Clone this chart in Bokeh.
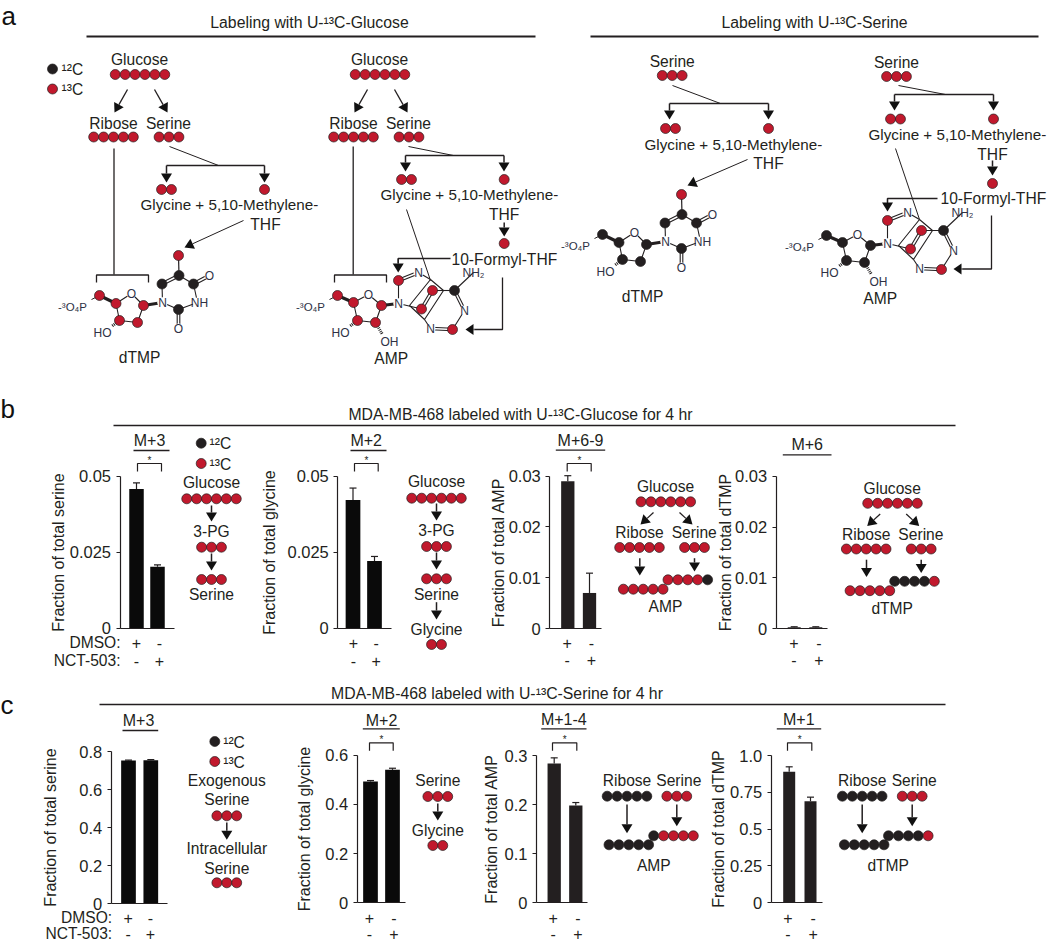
from math import hypot
from bokeh.plotting import figure
from bokeh.models import Range1d, LinearAxis, FixedTicker
from bokeh.core.properties import value
from bokeh.embed import file_html
from bokeh.resources import INLINE

# ---------- chart values ----------
b_serine_vals = [0.0458, 0.0202]
b_serine_errs = [0.0478, 0.0208]
b_glycine_vals = [0.0422, 0.0221]
b_glycine_errs = [0.0461, 0.0236]
b_amp_vals = [0.0290, 0.0070]
b_amp_errs = [0.0301, 0.0109]
b_dtmp_vals = [0.0003, 0.0003]
b_dtmp_errs = [0.0004, 0.0004]
c_serine_vals = [0.7527, 0.7540]
c_serine_errs = [0.7550, 0.7570]
c_glycine_vals = [0.493, 0.5404]
c_glycine_errs = [0.497, 0.547]
c_amp_vals = [0.2837, 0.198]
c_amp_errs = [0.2952, 0.204]
c_dtmp_vals = [0.889, 0.689]
c_dtmp_errs = [0.923, 0.7166]

ticks_005 = [0, 0.025, 0.05]
labels_005 = ["0", "0.025", "0.05"]
ticks_003 = [0, 0.01, 0.02, 0.03]
labels_003 = ["0", "0.01", "0.02", "0.03"]
ticks_08 = [0, 0.2, 0.4, 0.6, 0.8]
labels_08 = ["0", "0.2", "0.4", "0.6", "0.8"]
ticks_06 = [0, 0.2, 0.4, 0.6]
labels_06 = ["0", "0.2", "0.4", "0.6"]
ticks_03 = [0, 0.1, 0.2, 0.3]
labels_03 = ["0", "0.1", "0.2", "0.3"]
ticks_10 = [0, 0.25, 0.5, 0.75, 1.0]
labels_10 = ["0", "0.25", "0.5", "0.75", "1.0"]

RED, BLK, INK, MOL = "#c1192d", "#231f20", "#231f20", "#2e3145"
FONT = value("Liberation Sans")
W, H = 1050, 942
OX, OY = 0, 0
TS = 15.6   # usual text size

p = figure(width=W, height=H, output_backend="svg", toolbar_location=None,
           x_range=Range1d(OX, OX + W), y_range=Range1d(OY + H, OY),
           x_axis_type=None, y_axis_type=None, min_border=0,
           outline_line_color=None, background_fill_color="white", tools="")
p.grid.visible = False
p.min_border_left = p.min_border_right = p.min_border_top = p.min_border_bottom = 0

lines, dashed, heads, dots, whites, texts = [], [], [], [], [], []


def L(pts, w=1.3, c=INK):
    lines.append(([q[0] for q in pts], [q[1] for q in pts], w, c))


def A(x0, y0, x1, y1, w=1.3, hl=9, hw=5.5):
    d = hypot(x1 - x0, y1 - y0)
    ux, uy = (x1 - x0) / d, (y1 - y0) / d
    bx, by = x1 - ux * hl, y1 - uy * hl
    L([(x0, y0), (bx, by)], w)
    heads.append(([x1, bx - uy * hw, bx + uy * hw], [y1, by + ux * hw, by - ux * hw]))


def T(x, y, s, size=TS, align="center", base="middle", c=INK):
    texts.append((x, y, s, size, align, base, c))


def chain(cx, y, cols, step=9.9):
    n = len(cols)
    for i, k in enumerate(cols):
        dots.append((cx + (i - (n - 1) / 2) * step, y, k))


def dbl(a, b, w=1.1, g=1.3):
    d = hypot(b[0] - a[0], b[1] - a[1])
    nx, ny = -(b[1] - a[1]) / d * g, (b[0] - a[0]) / d * g
    L([(a[0] + nx, a[1] + ny), (b[0] + nx, b[1] + ny)], w)
    L([(a[0] - nx, a[1] - ny), (b[0] - nx, b[1] - ny)], w)


def sugar(dx, dy, cols, amp):
    q = lambda x, y: (x + dx, y + dy)
    if amp:
        c5, c4, o, c1, c2, c3 = q(337, 295), q(353, 302), q(368, 294), q(381, 305), q(375, 322), q(357, 320)
        base_n = q(398, 303)
    else:
        c5, c4, o, c1, c2, c3 = q(99, 295), q(115.5, 303), q(131, 293), q(143, 305), q(137, 322), q(119, 320)
        base_n = q(162, 302)
    L([c5, c4], 3.2)
    L([c4, o, c1, c2, c3, c4], 1.1)
    L([c1, base_n], 3.0)
    whites.append((*o, 10))
    whites.append((*base_n, 10))
    T(*o, "O", 12, c=MOL)
    p4 = (c5[0] - 27, c5[1] + 11)
    L([(c5[0] - 8, c5[1] + 4), c5], 1.0)
    T(p4[0], p4[1], "-³O₄P", 11.5, c=MOL)
    ho = (c3[0] - 17, c3[1] + 12.5)
    dashed.append(([c3[0], c3[0] - 8], [c3[1], c3[1] + 6]))
    T(ho[0], ho[1], "HO", 12, c=MOL)
    if amp:
        dashed.append(([c2[0], c2[0] + 7], [c2[1], c2[1] + 12]))
        T(c2[0] + 14, c2[1] + 19, "OH", 12, c=MOL)
    for pt, k in zip([c5, c4, c1, c2, c3], cols):
        dots.append((pt[0], pt[1], k))


def dtmp(dx, dy, sugar_cols, o5):
    q = lambda x, y: (x + dx, y + dy)
    d5, c5, c6, c4, n1, n3, c2, o4, o2 = q(178, 255), q(178.5, 275), q(161.5, 283.5), q(193, 283.5), q(162, 302), q(197, 302), q(178, 309), q(209, 275), q(178, 328)
    L([d5, c5], 1.2)
    dbl(c5, c6)
    L([c5, c4], 1.1)
    L([c6, n1], 1.1)
    L([c4, n3], 1.1)
    L([n1, c2], 1.1)
    L([n3, c2], 1.1)
    dbl(c4, o4)
    dbl(c2, o2)
    for pt in (n1, n3, o4, o2):
        whites.append((*pt, 10))
    T(*n1, "N", 12, c=MOL)
    T(n3[0] + 2, n3[1], "NH", 12, c=MOL)
    T(*o4, "O", 12, c=MOL)
    T(*o2, "O", 12, c=MOL)
    sugar(dx, dy, sugar_cols, False)
    dots.append((*d5, o5))
    for pt in (c5, c6, c4, c2):
        dots.append((*pt, BLK))
    T(139 + dx, 357 + dy, "dTMP")


def amp(dx, dy, sugar_cols, ring):
    q = lambda x, y: (x + dx, y + dy)
    c8, n9, n7, c5b, c4b, c6, nh2, n1, c2, n3 = q(398, 280), q(398, 303), q(418, 272), q(432, 290), q(421, 308.5), q(454, 290), q(473, 272), q(464, 310), q(452, 329), q(430, 328)
    tl, tr, br, bl = q(430, 279), q(443, 290), q(424, 319), q(409, 305)
    dbl(c8, n7)
    L([c8, n9], 1.1)
    L([n9, c4b], 1.1)
    L([n7, tl], 1.1)
    L([tl, tr, br, bl, tl], 1.1)
    dbl(c5b, c4b)
    L([c5b, c6], 1.1)
    L([c6, nh2], 1.1)
    dbl(c6, n1)
    L([n1, c2], 1.1)
    dbl(c2, n3)
    L([n3, br], 1.1)
    for pt in (n7, n1, n3, n9):
        whites.append((*pt, 10))
    T(*n7, "N", 12, c=MOL)
    T(*n1, "N", 12, c=MOL)
    T(*n3, "N", 12, c=MOL)
    T(*n9, "N", 12, c=MOL)
    T(nh2[0], nh2[1], "NH₂", 12, c=MOL)
    sugar(dx, dy, sugar_cols, True)
    for pt, k in zip((c8, c5b, c4b, c6, c2), ring):
        dots.append((*pt, k))
    T(390.7 + dx, 358 + dy, "AMP")


R6, R5, R3, R2 = [RED] * 6, [RED] * 5, [RED] * 3, [RED] * 2
B5 = [BLK] * 5


def legend(x, y1, y2, tx):
    dots.append((x, y1, BLK))
    dots.append((x, y2, RED))
    T(tx, y1 + 0.5, "¹²C", TS, "left")
    T(tx, y2 + 0.5, "¹³C", TS, "left")


def gly_line(x, y):
    T(x, y, "Glycine + 5,10-Methylene-", 15.2, "left")


# ---------- panel a ----------
T(1, 15, "a", 26, "left", "alphabetic", "#111111")
T(309, 22, "Labeling with U-¹³C-Glucose", 15.8)
L([(86, 36), (535, 36)], 2.2)
T(814, 22, "Labeling with U-¹³C-Serine", 15.8)
L([(590, 36), (1038, 36)], 2.2)
legend(52, 68.5, 88.5, 61)


def glucose_top(dx):
    T(139 + dx, 59, "Glucose")
    chain(139.5 + dx, 74, R6)
    A(127 + dx, 89, 114 + dx, 112)
    A(154 + dx, 89, 167 + dx, 112)
    T(113 + dx, 123, "Ribose")
    T(168 + dx, 123, "Serine")
    chain(113 + dx, 136.5, R5)
    chain(168.5 + dx, 136.5, R3)


glucose_top(0)
L([(169, 146), (218, 165)], 1.0)
L([(166, 165), (264, 165)], 1.5)
A(166, 165, 166, 182, 1.5)
A(264, 165, 264, 182, 1.5)
chain(166, 189, R2)
dots.append((264, 189, RED))
gly_line(140, 204)
T(265, 224, "THF")
A(243, 220, 184, 247, 1.0)
L([(113.5, 148), (113.5, 274)], 1.3)
L([(96, 282), (96, 274.5), (148, 274.5), (148, 282)], 1.3)
dtmp(0, 0, R5, RED)

glucose_top(240)
L([(408, 146), (453, 155)], 1.0)
L([(405, 155), (503.5, 155)], 1.5)
A(405, 155, 405, 171, 1.5)
A(503.5, 155, 503.5, 171, 1.5)
chain(406, 179, R2)
dots.append((503.7, 179, RED))
gly_line(380, 194)
T(503.7, 214, "THF")
A(503.7, 222, 503.7, 236, 1.5)
dots.append((503.7, 243, RED))
T(451, 259, "10-Formyl-THF", TS, "left")
L([(450, 258), (397.7, 258), (397.7, 263)], 1.3)
A(397.7, 258, 397.7, 272, 1.3)
L([(502, 277), (502, 329), (474, 329)], 1.3)
A(474, 329, 465, 329, 1.3, 8, 5.5)
L([(406, 209), (430, 280)], 1.0)
L([(352.7, 146), (352.7, 274)], 1.3)
L([(334, 282), (334, 274.5), (386, 274.5), (386, 282)], 1.3)
amp(0, 0, R5, [RED, RED, RED, BLK, RED])

T(671.7, 61, "Serine")
chain(671.7, 75, R3)
L([(672, 85), (720, 103)], 1.0)
L([(669, 103), (768, 103)], 1.5)
A(669, 103, 669, 119, 1.5)
A(768, 103, 768, 119, 1.5)
chain(670, 128, R2)
dots.append((768, 128, RED))
gly_line(644, 143.5)
T(768, 163, "THF")
A(747, 159, 687, 185, 1.0)
dtmp(503, -61, [BLK] * 5, RED)

T(896, 62, "Serine")
chain(896, 76, R3)
L([(898, 85), (945, 94)], 1.0)
L([(894, 94), (993, 94)], 1.5)
A(894, 94, 894, 110, 1.5)
A(993, 94, 993, 110, 1.5)
chain(895, 118.5, R2)
dots.append((993, 118.5, RED))
gly_line(868, 134)
T(992, 153.5, "THF")
A(992, 160, 992, 175, 1.5)
dots.append((992, 183, RED))
T(940, 197.5, "10-Formyl-THF", TS, "left")
L([(937, 198), (887, 198), (887, 203)], 1.3)
A(887, 198, 887, 211, 1.3)
L([(991, 215), (991, 268.5), (962, 268.5)], 1.3)
A(962, 268.5, 953, 268.5, 1.3, 8, 5.5)
L([(895, 148), (919, 219)], 1.0)
amp(489, -60, [BLK] * 5, [RED, RED, RED, BLK, RED])

# ---------- panel b and c headings ----------
T(0, 408, "b", 26, "left", "alphabetic", "#111111")
T(520, 414, "MDA-MB-468 labeled with U-¹³C-Glucose for 4 hr", 15.8)
L([(113, 425), (955, 425)], 1.4)
T(0, 704, "c", 26, "left", "alphabetic", "#111111")
T(496.5, 693, "MDA-MB-468 labeled with U-¹³C-Serine for 4 hr", 15.8)
L([(99, 704), (945, 704)], 1.4)

# ---------- diagrams in b ----------
legend(200.7, 442.7, 463, 209)
T(211, 481.7, "Glucose")
chain(211, 498.3, R6)
A(211, 505, 211, 521, 1.5)
T(211, 530.7, "3-PG")
chain(211, 546.7, R3)
A(211, 553, 211, 570, 1.5)
chain(211, 579, R3)
T(211, 594, "Serine")

T(436, 481, "Glucose")
chain(436, 497.7, R6)
A(436, 503, 436, 520, 1.5)
T(436, 530, "3-PG")
chain(436, 546, R3)
A(436, 552, 436, 569, 1.5)
chain(436, 578.3, R3)
T(436, 593.7, "Serine")
A(436, 601.7, 436, 619, 1.5)
T(436, 629, "Glycine")
chain(436, 644, R2)


def merge_diagram(dx, dy, right, name):
    T(665 + dx, 486 + dy, "Glucose")
    chain(665.3 + dx, 501.3 + dy, R6)
    A(653 + dx, 512 + dy, 640 + dx, 524 + dy)
    A(679 + dx, 512 + dy, 692 + dx, 524 + dy)
    T(639 + dx, 532 + dy, "Ribose")
    T(693.7 + dx, 532 + dy, "Serine")
    chain(639 + dx, 547 + dy, R5)
    chain(694 + dx, 547 + dy, R3)
    A(639.3 + dx, 557.7 + dy, 639.3 + dx, 575 + dy, 1.5)
    A(694 + dx, 557.7 + dy, 694 + dx, 571 + dy, 1.5)
    chain(642.7 + dx, 588.7 + dy, R5)
    chain(687.3 + dx, 579.3 + dy, right)
    T(665 + dx, 606 + dy, name)


merge_diagram(0, 0, [RED] * 4 + [BLK], "AMP")
merge_diagram(226.7, 1.5, [BLK] * 4 + [RED], "dTMP")

# ---------- diagrams in c ----------
legend(214.3, 741, 761, 222.7)
T(226.3, 780, "Exogenous")
T(226.3, 799.3, "Serine")
chain(226.3, 815.3, R3)
A(226.3, 822, 226.3, 839.3, 1.5)
T(226.3, 848.3, "Intracellular")
T(226.3, 867.7, "Serine")
chain(226.3, 882.3, R3)

T(437.3, 780, "Serine")
chain(437.3, 796, R3)
A(437.3, 803, 437.3, 820, 1.5)
T(437.3, 830, "Glycine")
chain(437.3, 845, R2)


def ser_diagram(rx, sx, left_x, right_x, right, name, nx):
    T(rx, 780, "Ribose")
    T(sx + 2, 780, "Serine")
    chain(rx, 795.7, B5)
    chain(sx, 795.7, R3)
    A(rx, 804, rx, 832.7, 1.5)
    A(sx, 804, sx, 825.7, 1.5)
    chain(left_x, 844.3, B5)
    chain(right_x, 835.3, right)
    T(nx, 865, name)


ser_diagram(626.5, 676.3, 628.3, 673, [BLK] + [RED] * 4, "AMP", 653.3)
ser_diagram(861.7, 911.7, 863.7, 907.8, [BLK] * 4 + [RED], "dTMP", 887.7)

# ---------- bar panels ----------
panels = [
    dict(name="b1", label="Fraction of total serine", ax=119.5, y0=627.7, yt=475.7, vt=0.05, ticks=ticks_005, labs=labels_005,
         xs=(136, 157), bw=14.5, vals=b_serine_vals, errs=b_serine_errs, end=174, col="#0a0a0a", so=0,
         m="M+3", mx=149, my=440, ml=(133, 169, 450), br=(137, 161, 463, 471), sx=149,
         pm=(136, 159), rows=(642, 660), names=120),
    dict(name="b2", label="Fraction of total glycine", ax=337.3, y0=627.7, yt=475.7, vt=0.05, ticks=ticks_005, labs=labels_005,
         xs=(352.5, 374), bw=14.7, vals=b_glycine_vals, errs=b_glycine_errs, end=391, col="#0a0a0a", so=6,
         m="M+2", mx=365.7, my=440, ml=(350, 386, 450), br=(354, 377.7, 463, 471), sx=366,
         pm=(353, 375.7), rows=(642, 660), names=None),
    dict(name="b3", label="Fraction of total AMP", ax=549.3, y0=628, yt=475.7, vt=0.03, ticks=ticks_003, labs=labels_003,
         xs=(567.3, 589), bw=13.3, vals=b_amp_vals, errs=b_amp_errs, end=600.7, col=BLK, so=-2,
         m="M+6-9", mx=580, my=440, ml=(555.3, 604.7, 449.7), br=(566.7, 590.7, 463, 471), sx=579,
         pm=(566.7, 591), rows=(642, 659), names=None),
    dict(name="b4", label="Fraction of total dTMP", ax=775.7, y0=628.3, yt=475.7, vt=0.03, ticks=ticks_003, labs=labels_003,
         xs=(793.7, 815.3), bw=13, vals=b_dtmp_vals, errs=b_dtmp_errs, end=827.3, col=BLK, so=-2,
         m="M+6", mx=806.7, my=444, ml=(782.3, 831, 454.3), br=None, sx=None,
         pm=(793.3, 818.3), rows=(642, 659), names=None),
    dict(name="c1", label="Fraction of total serine", ax=110.7, y0=903.3, yt=751, vt=0.8, ticks=ticks_08, labs=labels_08,
         xs=(128, 150.3), bw=14.7, vals=c_serine_vals, errs=c_serine_errs, end=166.7, col="#0a0a0a", so=18,
         m="M+3", mx=138, my=720, ml=(122, 157.7, 730), br=None, sx=None,
         pm=(127.7, 150), rows=(917, 933), names=111.7),
    dict(name="c2", label="Fraction of total glycine", ax=356.7, y0=902.3, yt=754.7, vt=0.6, ticks=ticks_06, labs=labels_06,
         xs=(370, 392), bw=14.7, vals=c_glycine_vals, errs=c_glycine_errs, end=405.3, col="#0a0a0a", so=10,
         m="M+2", mx=381, my=720, ml=(362.3, 399.3, 728.3), br=(369, 392.7, 742.3, 750.3), sx=381,
         pm=(369, 393.3), rows=(917, 933), names=None),
    dict(name="c3", label="Fraction of total AMP", ax=536, y0=902, yt=755, vt=0.3, ticks=ticks_03, labs=labels_03,
         xs=(553.7, 575.3), bw=13.3, vals=c_amp_vals, errs=c_amp_errs, end=587.3, col=BLK, so=2,
         m="M+1-4", mx=563.3, my=719.3, ml=(540.7, 586, 728.3), br=(552, 576.3, 742.3, 750.3), sx=564.3,
         pm=(552.7, 577.3), rows=(917, 933), names=None),
    dict(name="c4", label="Fraction of total dTMP", ax=770.7, y0=902, yt=755, vt=1.0, ticks=ticks_10, labs=labels_10,
         xs=(788.7, 810), bw=12, vals=c_dtmp_vals, errs=c_dtmp_errs, end=822, col=BLK, so=0,
         m="M+1", mx=798.3, my=719, ml=(776.3, 820.7, 728.3), br=(787, 811.3, 742.3, 750.3), sx=799.3,
         pm=(787.3, 812.7), rows=(917, 933), names=None),
]

for P in panels:
    nm = P["name"]
    ky = P["vt"] / (P["y0"] - P["yt"])
    p.extra_y_ranges[nm] = Range1d((P["y0"] - (OY + H)) * ky, (P["y0"] - OY) * ky)
    a, b = P["xs"]
    kx = 1.0 / (b - a)
    p.extra_x_ranges[nm] = Range1d((OX - a) * kx, (OX + W - a) * kx)

    yax = LinearAxis(y_range_name=nm, fixed_location=P["ax"], bounds=(0, P["vt"]),
                     ticker=FixedTicker(ticks=P["ticks"]),
                     major_label_overrides=dict(zip(P["ticks"], P["labs"])),
                     major_tick_in=0, major_tick_out=4, minor_tick_line_color=None,
                     major_tick_line_color=INK, major_tick_line_width=1.2,
                     axis_line_color=INK, axis_line_width=1.2,
                     major_label_text_font="Liberation Sans", major_label_text_font_size="16.5px",
                     major_label_text_color=INK, major_label_standoff=5,
                     axis_label=P["label"], axis_label_text_font="Liberation Sans",
                     axis_label_text_font_size="16px", axis_label_text_font_style="normal",
                     axis_label_text_color=INK, axis_label_standoff=P["so"])
    p.add_layout(yax, "left")

    xax = LinearAxis(x_range_name=nm, fixed_location=P["y0"],
                     bounds=((P["ax"] - a) * kx, (P["end"] - a) * kx),
                     ticker=FixedTicker(ticks=[]), major_tick_line_color=None,
                     minor_tick_line_color=None, major_label_text_color=None,
                     axis_line_color=INK, axis_line_width=1.2)
    p.add_layout(xax, "below")

    idx = [0, 1]
    p.vbar(x=idx, top=P["vals"], width=P["bw"] * kx, bottom=0, color=P["col"], line_color=None,
           x_range_name=nm, y_range_name=nm)
    cap = 3.5 * kx
    p.segment(x0=idx, x1=idx, y0=P["vals"], y1=P["errs"], line_color=INK, line_width=1.2,
              x_range_name=nm, y_range_name=nm)
    p.segment(x0=[i - cap for i in idx], x1=[i + cap for i in idx], y0=P["errs"], y1=P["errs"],
              line_color=INK, line_width=1.2, x_range_name=nm, y_range_name=nm)

    T(P["mx"], P["my"], P["m"], 16)
    x1, x2, ym = P["ml"]
    L([(x1, ym), (x2, ym)], 1.3)
    if P["br"]:
        bx1, bx2, by1, by2 = P["br"]
        L([(bx1, by2), (bx1, by1), (bx2, by1), (bx2, by2)], 1.2)
        T(P["sx"], by1 - 3.5, "*", 10)
    px1, px2 = P["pm"]
    r1, r2 = P["rows"]
    T(px1, r1, "+", 16)
    T(px2, r1, "-", 16)
    T(px1, r2, "-", 16)
    T(px2, r2, "+", 16)
    if P["names"]:
        T(P["names"], r1, "DMSO:", TS, "right")
        T(P["names"], r2, "NCT-503:", TS, "right")

# ---------- draw the collected diagram marks ----------
plain = [l for l in lines]
p.multi_line(xs=[l[0] for l in plain], ys=[l[1] for l in plain],
             line_width=[l[2] for l in plain], line_color=[l[3] for l in plain])
p.multi_line(xs=[d[0] for d in dashed], ys=[d[1] for d in dashed], line_width=3,
             line_color=INK, line_dash="1 1")
p.patches(xs=[h[0] for h in heads], ys=[h[1] for h in heads], color="#111111", line_color=None)
p.scatter(x=[w[0] for w in whites], y=[w[1] for w in whites], size=[w[2] for w in whites],
          color="white", line_color=None)
p.scatter(x=[d[0] for d in dots], y=[d[1] for d in dots], size=10, fill_color=[d[2] for d in dots],
          line_color="#231f20", line_width=0.7)
groups = {}
for x, y, s, size, align, base, c in texts:
    groups.setdefault((size, align, base, c), []).append((x, y, s))
for (size, align, base, c), items in groups.items():
    p.text(x=[i[0] for i in items], y=[i[1] for i in items], text=[i[2] for i in items],
           text_font=FONT, text_font_size=f"{size}px", text_align=align, text_baseline=base, text_color=c)

open("out.html", "w").write(file_html(p, INLINE))
